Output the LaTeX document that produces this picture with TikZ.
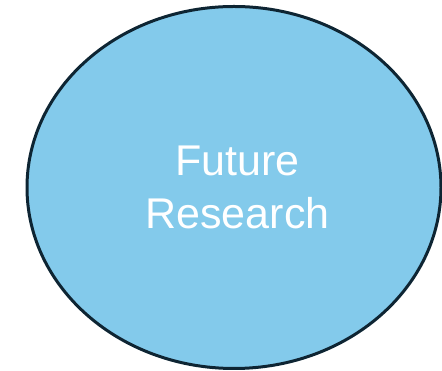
\documentclass[tikz,border=0pt]{standalone}
\usepackage{fontspec}
\setmainfont{Liberation Sans}
\usetikzlibrary{shapes.geometric}
\definecolor{fillblue}{HTML}{83CAEB}
\definecolor{edgeblue}{HTML}{0E2533}
\tikzset{bubble/.style={ellipse, draw=edgeblue, fill=fillblue, line width=3pt, minimum width=414pt, minimum height=362pt, inner sep=0pt},
  label/.style={text=white, font=\fontsize{43}{53}\selectfont, align=center}}
\begin{document}
\begin{tikzpicture}[x=1pt,y=1pt]
\useasboundingbox (0,0) rectangle (442,371);
\node[bubble] (e) at (234,183.5) {};
\node[label] (t) at (237.5,184) {Future\\Research};
\end{tikzpicture}
\end{document}
